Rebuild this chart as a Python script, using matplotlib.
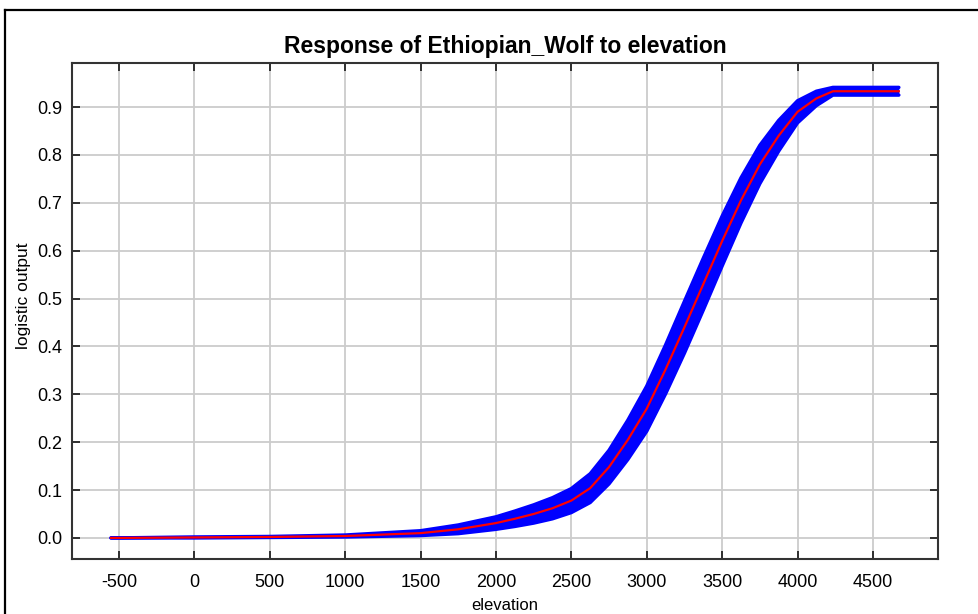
import numpy as np
import matplotlib
matplotlib.use("Agg")
import matplotlib.pyplot as plt
from matplotlib.lines import Line2D

plt.rcParams['font.family'] = ['Liberation Sans', 'DejaVu Sans']
plt.rcParams['axes.unicode_minus'] = False

# response curve
elevation = [-553, -500, 0, 500, 1000, 1500, 1750, 2000, 2125, 2250, 2375, 2500,
             2625, 2750, 2875, 3000, 3125, 3250, 3375, 3500, 3625, 3750, 3875,
             4000, 4125, 4235, 4672]
mean_out = [0.0, 0.0, 0.001, 0.002, 0.004, 0.010, 0.018, 0.031, 0.040, 0.050,
            0.062, 0.078, 0.104, 0.148, 0.205, 0.27, 0.352, 0.44, 0.53, 0.62,
            0.705, 0.78, 0.84, 0.89, 0.918, 0.933, 0.933]
sd_out = [0.0, 0.0, 0.001, 0.001, 0.002, 0.005, 0.009, 0.013, 0.016, 0.019,
          0.022, 0.025, 0.03, 0.035, 0.041, 0.047, 0.051, 0.054, 0.054, 0.052,
          0.047, 0.04, 0.032, 0.023, 0.015, 0.008, 0.008]
xticks = [-500, 0, 500, 1000, 1500, 2000, 2500, 3000, 3500, 4000, 4500]
yticks = [0.0, 0.1, 0.2, 0.3, 0.4, 0.5, 0.6, 0.7, 0.8, 0.9]

x = np.array(elevation)
m = np.array(mean_out)
s = np.array(sd_out)

fig = plt.figure(figsize=(9.79, 6.14), dpi=100)
ax = fig.add_axes([0.0735, 0.0896, 0.8845, 0.8078])

# blue band = mean +/- sd, red = mean
ax.fill_between(x, m - s, m + s, color='#0000ff', lw=0, zorder=2)
for edge in (m + s, m - s):
    ax.plot(x, edge, color='#0000ff', lw=2.5, solid_capstyle='round',
            solid_joinstyle='round', zorder=2)
ax.plot(x, m, color='#ff0000', lw=1.6, zorder=3)

ax.set_xlim(-812, 4931)
ax.set_ylim(-0.044, 0.992)
ax.set_xticks(xticks)
ax.set_yticks(yticks)
ax.set_yticklabels(['%.1f' % v for v in yticks])
ax.grid(True, color='#cccccc', lw=1.3, zorder=0)
ax.set_axisbelow(True)
ax.tick_params(direction='in', length=6, width=1.3, color='#222222',
               top=True, right=True, labelsize=13)
ax.tick_params(axis='x', pad=11)
ax.tick_params(axis='y', pad=7)
for sp in ax.spines.values():
    sp.set_linewidth(1.5)
    sp.set_color('#333333')

ax.set_title('Response of Ethiopian_Wolf to elevation', fontsize=16.5,
             fontweight='bold', pad=7)
ax.set_xlabel('elevation', fontsize=12, labelpad=5)
ax.set_ylabel('logistic output', fontsize=12.5)
ax.yaxis.set_label_coords(-0.047, 0.53)

# outer frame (top and left edges only visible)
fig.add_artist(Line2D([5 / 979, 1], [1 - 10 / 614, 1 - 10 / 614],
                      transform=fig.transFigure, color='black', lw=1.6))
fig.add_artist(Line2D([5 / 979, 5 / 979], [0, 1 - 10 / 614],
                      transform=fig.transFigure, color='black', lw=1.6))

fig.savefig('out.png', dpi=100)
